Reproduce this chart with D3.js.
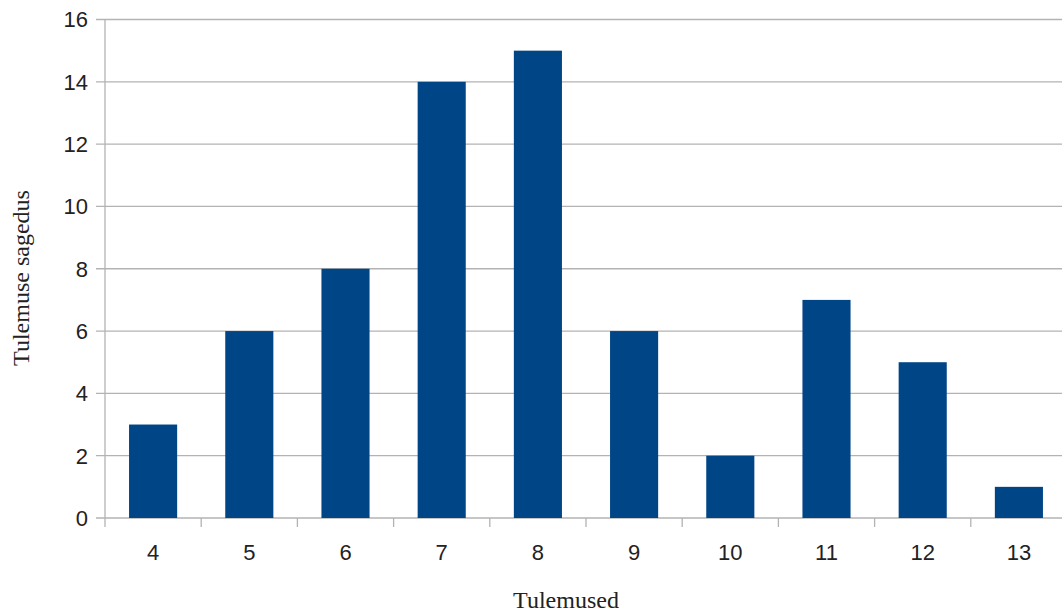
<!DOCTYPE html>
<html><head><meta charset="utf-8">
<script src="https://cdn.jsdelivr.net/npm/d3@7"></script>
<style>html,body{margin:0;padding:0;background:#fff;overflow:hidden}</style>
</head><body>
<script>
const categories = ["4","5","6","7","8","9","10","11","12","13"];
const values = [3,6,8,14,15,6,2,7,5,1];
const yTicks = [0,2,4,6,8,10,12,14,16];
const xTitle = "Tulemused";
const yTitle = "Tulemuse sagedus";

const W = 1062, H = 615;
const pLeft = 105, pTop = 19.5, pBottom = 518, pRight = 1067;
const svg = d3.select("body").append("svg").attr("width", W).attr("height", H);

const x = d3.scaleBand().domain(categories).range([pLeft, pRight]).paddingInner(0.5).paddingOuter(0.25);
const y = d3.scaleLinear().domain([0,16]).range([pBottom, pTop]);

const grid = "#b3b3b3";
svg.append("g").selectAll("line").data(yTicks).join("line")
  .attr("x1", pLeft - 9).attr("x2", W).attr("y1", d => y(d)).attr("y2", d => y(d))
  .attr("stroke", grid).attr("stroke-width", 1.3);
svg.append("line").attr("x1", pLeft).attr("x2", pLeft).attr("y1", pTop).attr("y2", pBottom + 9)
  .attr("stroke", grid).attr("stroke-width", 1.3);
const step = x.step();
const bounds = categories.map(c => x(c) - (step - x.bandwidth()) / 2).slice(1);
svg.append("g").selectAll("line").data(bounds).join("line")
  .attr("x1", d => d).attr("x2", d => d).attr("y1", pBottom).attr("y2", pBottom + 9)
  .attr("stroke", grid).attr("stroke-width", 1.3);

svg.append("g").selectAll("rect").data(values).join("rect")
  .attr("x", (d,i) => x(categories[i])).attr("width", x.bandwidth())
  .attr("y", d => y(d)).attr("height", d => y(0) - y(d))
  .attr("fill", "#004586");

svg.append("g").selectAll("text").data(yTicks).join("text")
  .attr("x", 88).attr("y", d => y(d)).attr("dy", "0.36em")
  .attr("text-anchor", "end").attr("font-family", "Liberation Sans, Arial, sans-serif")
  .attr("font-size", 22).attr("fill", "#222").text(d => d);
svg.append("g").selectAll("text").data(categories).join("text")
  .attr("x", d => x(d) + x.bandwidth()/2).attr("y", 560)
  .attr("text-anchor", "middle").attr("font-family", "Liberation Sans, Arial, sans-serif")
  .attr("font-size", 22).attr("fill", "#222").text(d => d);

svg.append("text").attr("x", 566).attr("y", 608).attr("text-anchor", "middle")
  .attr("font-family", "Liberation Serif, Times New Roman, serif").attr("font-size", 24)
  .attr("fill", "#222").text(xTitle);
svg.append("text").attr("transform", "translate(29,278) rotate(-90)").attr("text-anchor", "middle")
  .attr("font-family", "Liberation Serif, Times New Roman, serif").attr("font-size", 24)
  .attr("fill", "#222").text(yTitle);
</script>
</body></html>
